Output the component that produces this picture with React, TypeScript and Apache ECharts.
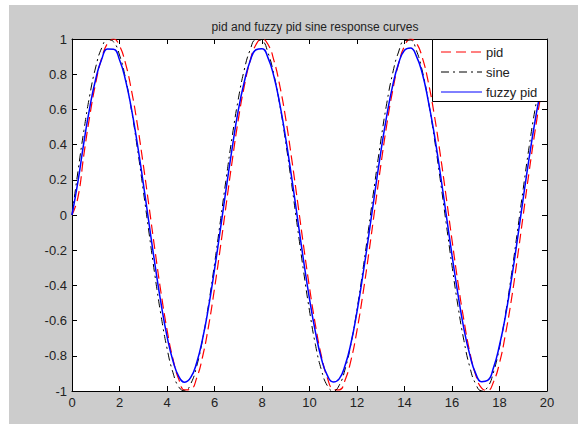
import React, { useEffect, useRef } from "react";
import * as echarts from "echarts";

const timeValues = [
  0, 0.25, 0.5, 0.75, 1, 1.25, 1.5, 1.75, 2, 2.25, 2.5, 2.75, 3, 3.25, 3.5, 3.75, 4, 4.25, 4.5, 4.75,
  5, 5.25, 5.5, 5.75, 6, 6.25, 6.5, 6.75, 7, 7.25, 7.5, 7.75, 8, 8.25, 8.5, 8.75, 9, 9.25, 9.5, 9.75,
  10, 10.25, 10.5, 10.75, 11, 11.25, 11.5, 11.75, 12, 12.25, 12.5, 12.75, 13, 13.25, 13.5, 13.75, 14, 14.25, 14.5, 14.75,
  15, 15.25, 15.5, 15.75, 16, 16.25, 16.5, 16.75, 17, 17.25, 17.5, 17.75, 18, 18.25, 18.5, 18.75, 19, 19.25, 19.5, 19.75, 20,
];

const pidValues = [
  0, 0.1, 0.343, 0.565, 0.751, 0.891, 0.976, 1.0, 0.961, 0.863, 0.711, 0.516, 0.287, 0.042, -0.207, -0.443, -0.651, -0.818, -0.935, -0.994,
  -0.99, -0.926, -0.804, -0.631, -0.418, -0.182, 0.067, 0.312, 0.54, 0.729, 0.876, 0.969, 1.0, 0.97, 0.879, 0.734, 0.546, 0.319, 0.074, -0.175,
  -0.412, -0.625, -0.8, -0.925, -0.989, -0.994, -0.937, -0.823, -0.655, -0.448, -0.214, 0.034, 0.28, 0.51, 0.706, 0.859, 0.959, 0.999, 0.977, 0.894,
  0.756, 0.572, 0.35, 0.108, -0.142, -0.383, -0.597, -0.78, -0.91, -0.984, -0.997, -0.947, -0.841, -0.678, -0.482, -0.248, 0.001, 0.249, 0.479, 0.684, 0.841,
];

const sineValues = [
  0, 0.247, 0.479, 0.682, 0.841, 0.949, 0.997, 0.984, 0.909, 0.778, 0.598, 0.382, 0.141, -0.108, -0.351, -0.572, -0.757, -0.895, -0.978, -0.999,
  -0.959, -0.859, -0.706, -0.508, -0.279, -0.033, 0.215, 0.45, 0.657, 0.823, 0.938, 0.995, 0.989, 0.923, 0.798, 0.625, 0.412, 0.174, -0.075, -0.319,
  -0.544, -0.737, -0.88, -0.97, -1.0, -0.968, -0.875, -0.729, -0.537, -0.311, -0.066, 0.183, 0.42, 0.632, 0.804, 0.926, 0.991, 0.994, 0.935, 0.818,
  0.65, 0.442, 0.206, -0.042, -0.288, -0.516, -0.712, -0.864, -0.961, -0.999, -0.978, -0.891, -0.751, -0.564, -0.342, -0.099, 0.15, 0.39, 0.603, 0.783, 0.913,
];

const fuzzyPidValues = [
  0, 0.189, 0.413, 0.612, 0.773, 0.885, 0.943, 0.942, 0.882, 0.768, 0.606, 0.406, 0.181, -0.055, -0.288, -0.504, -0.688, -0.828, -0.918, -0.95,
  -0.923, -0.839, -0.703, -0.523, -0.311, -0.079, 0.158, 0.385, 0.594, 0.754, 0.875, 0.939, 0.945, 0.894, 0.788, 0.63, 0.434, 0.212, -0.024, -0.259,
  -0.477, -0.665, -0.815, -0.911, -0.949, -0.931, -0.854, -0.726, -0.549, -0.339, -0.11, 0.126, 0.356, 0.562, 0.734, 0.861, 0.936, 0.949, 0.903, 0.804,
  0.649, 0.462, 0.242, 0.008, -0.228, -0.449, -0.645, -0.795, -0.901, -0.947, -0.94, -0.867, -0.74, -0.575, -0.369, -0.143, 0.096, 0.326, 0.536, 0.714, 0.845,
];

const xTicks = { min: 0, max: 20, interval: 2 };
const yTicks = { min: -1, max: 1, interval: 0.2 };

const titleText = "pid and fuzzy pid sine response curves";
const seriesNames = ["pid", "sine", "fuzzy pid"];
const seriesColors = ["#ff0000", "#000000", "#0000ff"];
const seriesDashes: (number[] | null)[] = [[10, 5], [8, 4, 2, 4], null];

const FONT = "'Liberation Sans', Arial, Helvetica, sans-serif";

function pairs(ys: number[]) {
  return timeValues.map((t, i) => [t, ys[i]]);
}

function fmtY(v: number) {
  const r = Math.round(v * 10) / 10;
  if (Math.abs(r) < 1e-9) return "0";
  return String(r);
}

export default function App() {
  const ref = useRef<HTMLDivElement>(null);
  useEffect(() => {
    if (!ref.current) return;
    const chart = echarts.init(ref.current, null, { renderer: "svg" });
    const axisLine = { show: true, onZero: false, lineStyle: { color: "#000", width: 1 } };
    const axisTick = { show: true, inside: true, length: 5, lineStyle: { color: "#000", width: 1 } };
    const axisLabel = { color: "#222", fontFamily: FONT, fontSize: 13 };

    const legendBox = { x: 432.5, y: 39.5, w: 115, h: 62 };
    const legendItems: any[] = [];
    seriesNames.forEach((name, i) => {
      const cy = 52 + i * 20;
      legendItems.push({
        type: "line",
        z: 101,
        silent: true,
        shape: { x1: 441, y1: cy, x2: 482, y2: cy },
        style: {
          stroke: seriesColors[i],
          lineWidth: 1,
          lineDash: seriesDashes[i] || undefined,
        },
      });
      legendItems.push({
        type: "text",
        z: 101,
        silent: true,
        x: 486,
        y: cy,
        style: {
          text: name,
          fontFamily: FONT,
          fontSize: 13,
          fill: "#222",
          verticalAlign: "middle",
          align: "left",
        },
      });
    });

    chart.setOption({
      animation: false,
      backgroundColor: "#ffffff",
      graphic: [
        {
          type: "rect",
          z: -10,
          silent: true,
          shape: { x: 9, y: 5, width: 569, height: 419 },
          style: { fill: "#cccccc" },
        },
        {
          type: "rect",
          z: -5,
          silent: true,
          shape: { x: 72, y: 39, width: 475, height: 352 },
          style: { fill: "#ffffff" },
        },
        {
          type: "rect",
          z: 100,
          silent: true,
          shape: { x: legendBox.x, y: legendBox.y, width: legendBox.w, height: legendBox.h },
          style: { fill: "#ffffff", stroke: "#000000", lineWidth: 1 },
        },
        ...legendItems,
      ],
      title: {
        text: titleText,
        left: 310,
        top: 16,
        textAlign: "center",
        textStyle: { fontFamily: FONT, fontSize: 12, fontWeight: "normal", color: "#222" },
      },
      grid: { left: 72, right: 31, top: 39, bottom: 33, containLabel: false },
      xAxis: [
        {
          type: "value",
          min: xTicks.min,
          max: xTicks.max,
          interval: xTicks.interval,
          position: "bottom",
          axisLine,
          axisTick,
          axisLabel: { ...axisLabel, margin: 5 },
          splitLine: { show: false },
        },
        {
          type: "value",
          min: xTicks.min,
          max: xTicks.max,
          interval: xTicks.interval,
          position: "top",
          axisLine,
          axisTick,
          axisLabel: { show: false },
          splitLine: { show: false },
        },
      ],
      yAxis: [
        {
          type: "value",
          min: yTicks.min,
          max: yTicks.max,
          interval: yTicks.interval,
          position: "left",
          axisLine,
          axisTick,
          axisLabel: { ...axisLabel, margin: 5, formatter: fmtY },
          splitLine: { show: false },
        },
        {
          type: "value",
          min: yTicks.min,
          max: yTicks.max,
          interval: yTicks.interval,
          position: "right",
          axisLine,
          axisTick,
          axisLabel: { show: false },
          splitLine: { show: false },
        },
      ],
      series: [
        {
          name: seriesNames[0],
          type: "line",
          data: pairs(pidValues),
          smooth: true,
          showSymbol: false,
          clip: true,
          lineStyle: { color: seriesColors[0], width: 1.2, type: seriesDashes[0] },
          z: 2,
        },
        {
          name: seriesNames[1],
          type: "line",
          data: pairs(sineValues),
          smooth: true,
          showSymbol: false,
          clip: true,
          lineStyle: { color: seriesColors[1], width: 1, type: seriesDashes[1] },
          z: 3,
        },
        {
          name: seriesNames[2],
          type: "line",
          data: pairs(fuzzyPidValues),
          smooth: true,
          showSymbol: false,
          clip: true,
          lineStyle: { color: seriesColors[2], width: 1.5 },
          z: 4,
        },
      ],
    });
    return () => chart.dispose();
  }, []);
  return (
    <div
      ref={ref}
      style={{ position: "fixed", left: 0, top: 0, width: 578, height: 424 }}
    />
  );
}
